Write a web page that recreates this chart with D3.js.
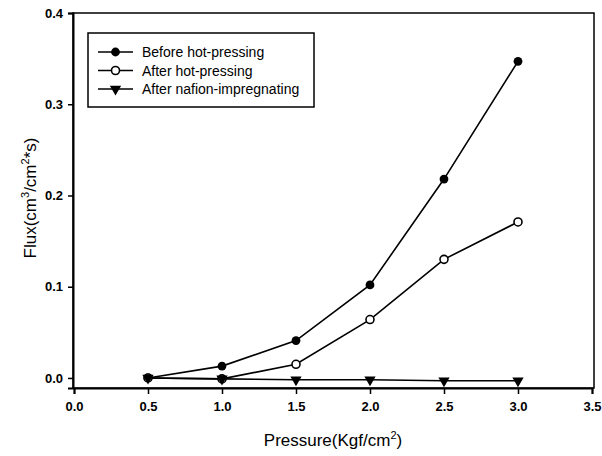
<!DOCTYPE html>
<html><head><meta charset="utf-8">
<script src="https://cdn.jsdelivr.net/npm/d3@7"></script>
<style>body{margin:0;background:#fff}svg{display:block}text{font-family:"Liberation Sans",Arial,sans-serif}</style>
</head><body>
<svg id="c" width="602" height="456"></svg>
<script>
const pressure = [0.5, 1.0, 1.5, 2.0, 2.5, 3.0];
const beforeHot = [0.0, 0.013, 0.041, 0.102, 0.218, 0.347];
const afterHot = [0.0, -0.001, 0.015, 0.064, 0.130, 0.171];
const afterNafion = [0.0, -0.001, -0.002, -0.002, -0.003, -0.003];
const seriesNames = ["Before hot-pressing", "After hot-pressing", "After nafion-impregnating"];
const xTicks = [0, 0.5, 1.0, 1.5, 2.0, 2.5, 3.0, 3.5];
const yTicks = [0.0, 0.1, 0.2, 0.3, 0.4];

const svg = d3.select("#c");
const L = 73, R = 594, T = 13, B = 388;
const x = d3.scaleLinear().domain([0, 3.5]).range([L + 1, R - 2]);
const y = d3.scaleLinear().domain([-0.011, 0.4]).range([B, T]);

// frame
svg.append("rect").attr("x", L).attr("y", T).attr("width", R - L).attr("height", B - T)
  .attr("fill", "none").attr("stroke", "#000").attr("stroke-width", 1.5);

// axes
const xa = svg.append("g").attr("transform", `translate(0,${B})`)
  .call(d3.axisBottom(x).tickValues(xTicks).tickFormat(d3.format(".1f")).tickSize(6).tickPadding(8));
const ya = svg.append("g").attr("transform", `translate(${L},0)`)
  .call(d3.axisLeft(y).tickValues(yTicks).tickFormat(d3.format(".1f")).tickSize(5).tickPadding(5));
[xa, ya].forEach(g => {
  g.select(".domain").attr("stroke-width", 2);
  g.selectAll(".tick line").attr("stroke-width", 1.5);
  g.selectAll(".tick text").attr("font-size", 13).attr("font-weight", "bold").attr("fill", "#000")
    .style("font-family", "'Liberation Sans', Arial, sans-serif");
});

// lines
const line = d3.line().x((d, i) => x(pressure[i])).y(d => y(d));
const series = [beforeHot, afterHot, afterNafion];
series.forEach(s => {
  svg.append("path").datum(s).attr("d", line).attr("fill", "none")
    .attr("stroke", "#000").attr("stroke-width", 1.6);
});

const tri = d3.symbol().type(d3.symbolTriangle).size(55);
function marker(g, k, cx, cy) {
  if (k === 0) g.append("circle").attr("cx", cx).attr("cy", cy).attr("r", 4.4).attr("fill", "#000");
  else if (k === 1) g.append("circle").attr("cx", cx).attr("cy", cy).attr("r", 4.0)
    .attr("fill", "#fff").attr("stroke", "#000").attr("stroke-width", 1.6);
  else g.append("path").attr("d", tri).attr("transform", `translate(${cx},${cy}) rotate(180)`).attr("fill", "#000");
}
const mg = svg.append("g");
series.forEach((s, k) => s.forEach((v, i) => marker(mg, k, x(pressure[i]), y(v))));

// legend
const lg = svg.append("g");
lg.append("rect").attr("x", 88).attr("y", 33).attr("width", 226).attr("height", 74)
  .attr("fill", "#fff").attr("stroke", "#000").attr("stroke-width", 1.5);
seriesNames.forEach((n, k) => {
  const cy = 52 + k * 18.5;
  lg.append("line").attr("x1", 98).attr("x2", 133).attr("y1", cy).attr("y2", cy)
    .attr("stroke", "#000").attr("stroke-width", 1.6);
  marker(lg, k, 115.5, cy);
  lg.append("text").attr("x", 142).attr("y", cy + 5).attr("font-size", 14).text(n);
});

// axis titles
const yt = svg.append("text").attr("transform", "translate(36,198) rotate(-90)")
  .attr("text-anchor", "middle").attr("font-size", 17);
yt.append("tspan").text("Flux(cm");
yt.append("tspan").attr("dy", -7).attr("font-size", 11).text("3");
yt.append("tspan").attr("dy", 7).text("/cm");
yt.append("tspan").attr("dy", -7).attr("font-size", 11).text("2");
yt.append("tspan").attr("dy", 7).text("*s)");

const xt = svg.append("text").attr("x", 333).attr("y", 446)
  .attr("text-anchor", "middle").attr("font-size", 17);
xt.append("tspan").text("Pressure(Kgf/cm");
xt.append("tspan").attr("dy", -7).attr("font-size", 11).text("2");
xt.append("tspan").attr("dy", 7).text(")");
</script>
</body></html>
